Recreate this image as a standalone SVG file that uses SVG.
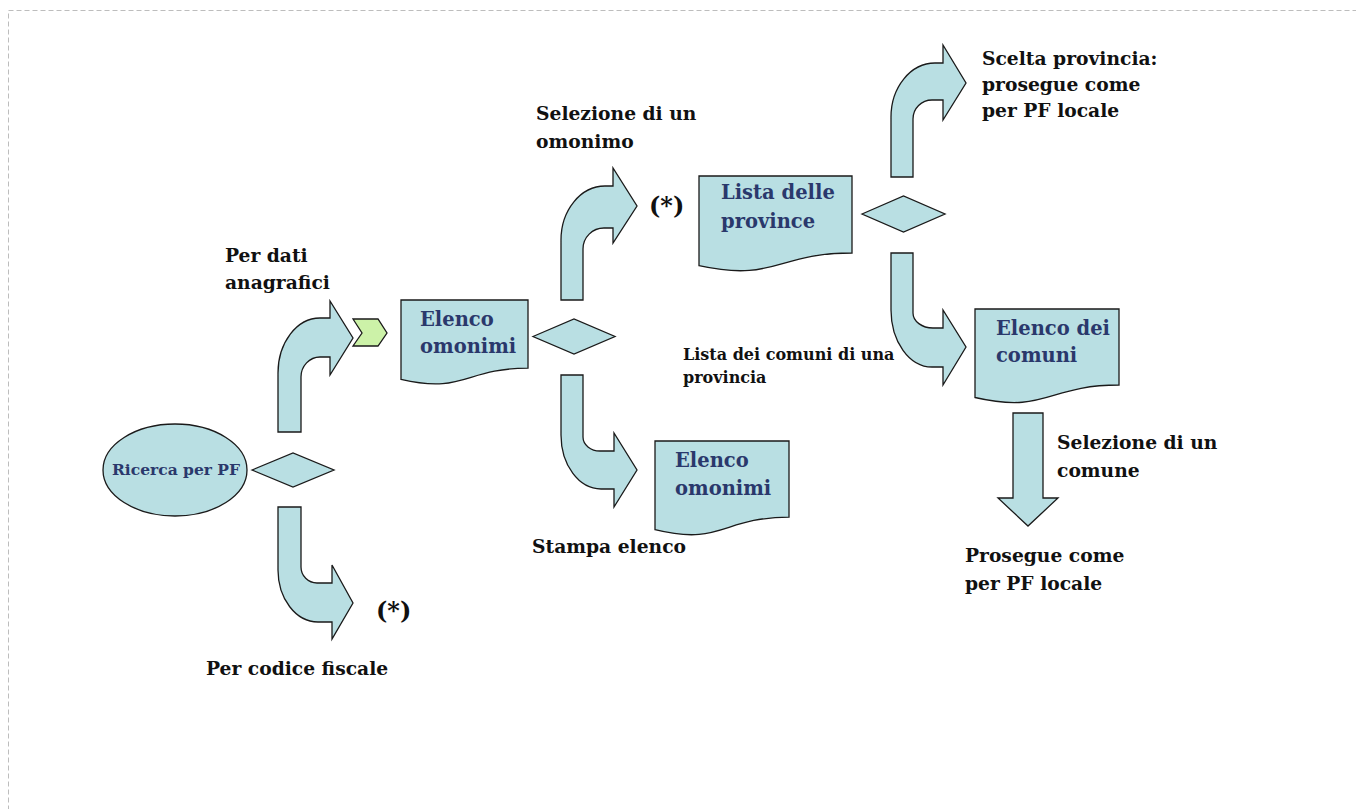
<svg xmlns="http://www.w3.org/2000/svg" width="1356" height="809" viewBox="0 0 1356 809">
<style>
.sh{fill:#B9DFE3;stroke:#1a1a1a;stroke-width:1.3;stroke-linejoin:miter}
.chev{fill:#CCF2A8;stroke:#1a1a1a;stroke-width:1.3}
.lbl{font-family:"DejaVu Serif","Liberation Serif",serif;font-weight:bold;fill:#111;font-size:18.7px}
.sm{font-size:16px}
.star{font-size:24px}
.doc{font-family:"DejaVu Serif","Liberation Serif",serif;font-weight:bold;fill:#2A386C;font-size:19.5px}
</style>
<rect x="8.5" y="10.5" width="1400" height="900" fill="none" stroke="#bdbdbd" stroke-width="1" stroke-dasharray="5,3"/>

<g id="connectors">
  <path id="a1" class="sh" d="M278,432 V373 A42,55 0 0 1 320,318 H330 V301 L353,338 L330,375 V357 H320 A19,20 0 0 0 301,377 V432 Z"/>
  <path id="a2" class="sh" d="M278,507 H301 V567 A16,16 0 0 0 317,583 H332 V565 L353,603 L332,639 V622 H318 A40,52 0 0 1 278,570 Z"/>
  <path id="a3" class="sh" d="M561,300 V240 A44,54 0 0 1 605,186 H613 V168 L637,206 L613,243 V228 H604 A21,21 0 0 0 583,249 V300 Z"/>
  <path id="a4" class="sh" d="M561,375 H583 V437 A17,14 0 0 0 600,451 H614 V433 L637,470 L614,507 V489 H601 A40,54 0 0 1 561,435 Z"/>
  <path id="a5" class="sh" d="M891,177 V117 A44,54 0 0 1 935,63 H943 V45 L966,83 L943,120 V100 H932 A19,19 0 0 0 913,119 V177 Z"/>
  <path id="a6" class="sh" d="M891,253 H913 V313 A20,15 0 0 0 933,328 H943 V310 L966,347 L943,385 V367 H932 A41,57 0 0 1 891,310 Z"/>
  <path id="a7" class="sh" d="M1013,413 H1043 V498 H1058 L1028,526 L998,498 H1013 Z"/>
</g>

<g id="n-ricerca">
  <ellipse class="sh" cx="175" cy="470" rx="72" ry="46"/>
  <text class="doc" x="176" y="475" text-anchor="middle" style="font-size:15.5px">Ricerca per PF</text>
</g>
<g id="d1"><path class="sh" d="M252,470 L293,453 L334,470 L293,487 Z"/></g>
<g id="chevron"><path class="chev" d="M353,319 H378 L387,333 L378,346 H353 L362,333 Z"/></g>

<g id="n-elenco1">
  <path class="sh" d="M401,300 H528 V368.2 C464.5,368.2 464.5,394.1 401,379.4 Z"/>
  <text class="doc" x="420" y="326">Elenco</text>
  <text class="doc" x="420" y="353">omonimi</text>
</g>
<g id="d2"><path class="sh" d="M533,336.5 L574,319 L615,336.5 L574,354 Z"/></g>

<g id="n-elenco2">
  <path class="sh" d="M655,441 H789 V517.2 C722,517.2 722,546.2 655,529.7 Z"/>
  <text class="doc" x="675" y="467">Elenco</text>
  <text class="doc" x="675" y="495">omonimi</text>
</g>

<g id="n-province">
  <path class="sh" d="M699,176 H852 V253 C775.5,253 775.5,282.3 699,265.7 Z"/>
  <text class="doc" x="721" y="199">Lista delle</text>
  <text class="doc" x="721" y="228">province</text>
</g>
<g id="d3"><path class="sh" d="M862,214 L903.5,196 L945,214 L903.5,232 Z"/></g>

<g id="n-comuni">
  <path class="sh" d="M975,309 H1119 V385 C1047,385 1047,414 975,397.5 Z"/>
  <text class="doc" x="996" y="335">Elenco dei</text>
  <text class="doc" x="996" y="362">comuni</text>
</g>

<g id="labels">
  <text class="lbl" x="225" y="262">Per dati</text>
  <text class="lbl" x="225" y="289">anagrafici</text>
  <text class="lbl star" x="376" y="619">(*)</text>
  <text class="lbl" x="206" y="675">Per codice fiscale</text>
  <text class="lbl" x="536" y="120">Selezione di un</text>
  <text class="lbl" x="536" y="148">omonimo</text>
  <text class="lbl star" x="649" y="214">(*)</text>
  <text class="lbl" x="532" y="553">Stampa elenco</text>
  <text class="lbl" x="982" y="65">Scelta provincia:</text>
  <text class="lbl" x="982" y="91">prosegue come</text>
  <text class="lbl" x="982" y="117">per PF locale</text>
  <text class="lbl sm" x="683" y="360">Lista dei comuni di una</text>
  <text class="lbl sm" x="683" y="383">provincia</text>
  <text class="lbl" x="1057" y="449">Selezione di un</text>
  <text class="lbl" x="1057" y="477">comune</text>
  <text class="lbl" x="965" y="562">Prosegue come</text>
  <text class="lbl" x="965" y="590">per PF locale</text>
</g>
</svg>
